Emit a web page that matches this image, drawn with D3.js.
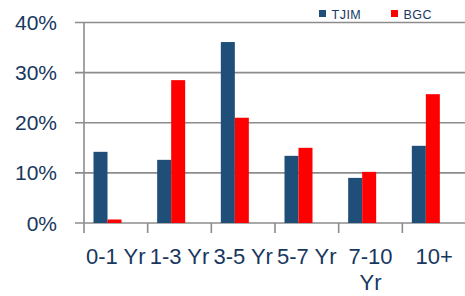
<!DOCTYPE html>
<html>
<head>
<meta charset="utf-8">
<script src="https://cdn.jsdelivr.net/npm/d3@7"></script>
<style>
  body { margin: 0; background: #fff; }
  svg { display: block; font-family: "Liberation Sans", Arial, sans-serif; }
</style>
</head>
<body>
<svg id="chart" width="465" height="296"></svg>
<script>
// values (share of portfolio, %)
const categories = ["0-1 Yr", "1-3 Yr", "3-5 Yr", "5-7 Yr", "7-10 Yr", "10+"];
const tjim = [14.2, 12.6, 36.1, 13.4, 9.0, 15.4];
const bgc = [0.7, 28.5, 21.0, 15.0, 10.2, 25.7];
const yTicks = [0, 10, 20, 30, 40];
const seriesNames = ["TJIM", "BGC"];
const colors = ["#1f4e79", "#ff0000"];

const textColor = "#17375e";
const gridColor = "#8c8c8c";

const svg = d3.select("#chart");
const plotLeft = 84, plotRight = 466, plotTop = 22.5, plotBottom = 223;

const x = d3.scaleBand().domain(categories).range([plotLeft, plotRight]);
const y = d3.scaleLinear().domain([0, 40]).range([plotBottom, plotTop]);
const barW = 14;

// gridlines + y ticks
const yAxis = svg.append("g");
yAxis.selectAll("line.grid")
  .data(yTicks)
  .enter()
  .append("line")
  .attr("x1", plotLeft - 9)
  .attr("x2", plotRight)
  .attr("y1", d => y(d))
  .attr("y2", d => y(d))
  .attr("stroke", gridColor)
  .attr("stroke-width", 1.6);

yAxis.selectAll("text")
  .data(yTicks)
  .enter()
  .append("text")
  .attr("x", 57)
  .attr("y", d => y(d) + 7.5)
  .attr("text-anchor", "end")
  .attr("fill", textColor)
  .attr("font-size", 21)
  .text(d => d + "%");

// vertical axis line
svg.append("line")
  .attr("x1", plotLeft).attr("x2", plotLeft)
  .attr("y1", plotTop).attr("y2", plotBottom + 10)
  .attr("stroke", gridColor)
  .attr("stroke-width", 1.6);

// category tick marks between bands
svg.selectAll("line.ctick")
  .data(categories.slice(1))
  .enter()
  .append("line")
  .attr("x1", d => x(d))
  .attr("x2", d => x(d))
  .attr("y1", plotBottom)
  .attr("y2", plotBottom + 10)
  .attr("stroke", gridColor)
  .attr("stroke-width", 1.6);

// bars
const groups = svg.selectAll("g.cat")
  .data(categories)
  .enter()
  .append("g")
  .attr("transform", d => "translate(" + (x(d) + 23.5) + ",0)");

[tjim, bgc].forEach(function(vals, s) {
  groups.append("rect")
    .attr("x", s === 0 ? -barW : 0)
    .attr("width", barW)
    .attr("y", (d, i) => y(vals[i]))
    .attr("height", (d, i) => plotBottom - y(vals[i]))
    .attr("fill", colors[s]);
});

// category labels, "7-10 Yr" wraps
svg.selectAll("text.cat")
  .data(categories)
  .enter()
  .append("text")
  .attr("text-anchor", "middle")
  .attr("fill", textColor)
  .attr("font-size", 22)
  .each(function(d) {
    const lines = d === "7-10 Yr" ? ["7-10", "Yr"] : [d];
    const t = d3.select(this);
    lines.forEach((l, i) => {
      t.append("tspan")
        .attr("x", x(d) + x.bandwidth() / 2)
        .attr("y", 264 + i * 26)
        .text(l);
    });
  });

// legend
const legendX = [319, 391];
const legend = svg.selectAll("g.legend")
  .data(seriesNames)
  .enter()
  .append("g")
  .attr("transform", (d, i) => "translate(" + legendX[i] + ",10)");
legend.append("rect")
  .attr("width", 7).attr("height", 7)
  .attr("fill", (d, i) => colors[i]);
legend.append("text")
  .attr("x", 12.5)
  .attr("y", 9)
  .attr("fill", textColor)
  .attr("font-size", 12.5)
  .attr("letter-spacing", 0.5)
  .text(d => d);
</script>
</body>
</html>
